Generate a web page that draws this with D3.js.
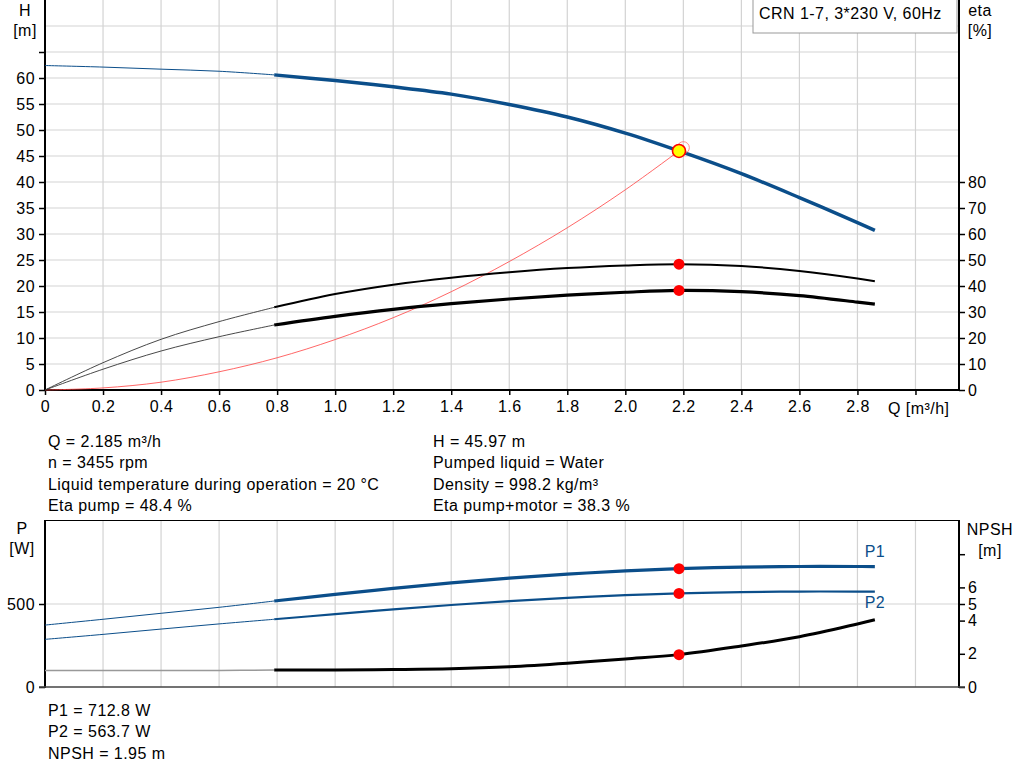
<!DOCTYPE html>
<html>
<head>
<meta charset="utf-8">
<script src="https://cdn.jsdelivr.net/npm/d3@7"></script>
<style>
  body { margin: 0; background: #fff; }
  svg { display: block; font-family: "Liberation Sans", Arial, sans-serif; }
  svg text { font-size: 16px; letter-spacing: 0.45px; }
</style>
</head>
<body>
<div id="chart"></div>
<script>
// flow values, thin (outside range) part and thick (operating range) part
var qLow = [0, 0.2, 0.4, 0.6, 0.79]
var qHigh = [0.79, 1.0, 1.2, 1.4, 1.6, 1.8, 2.0, 2.185, 2.4, 2.6, 2.8, 2.86]

var hLow = [62.4, 62.1, 61.7, 61.3, 60.6]
var hHigh = [60.6, 59.5, 58.3, 56.9, 54.9, 52.5, 49.4, 45.97, 41.6, 37.0, 32.2, 30.7]

var etaPumpLow = [0, 10.5, 19.5, 26.3, 31.8]
var etaPumpHigh = [31.8, 36.9, 40.5, 43.2, 45.3, 46.9, 47.9, 48.4, 47.7, 45.8, 42.9, 41.8]

var etaTotLow = [0, 8, 15, 20.5, 25]
var etaTotHigh = [25, 28.3, 31.0, 33.2, 35.0, 36.5, 37.6, 38.3, 37.8, 36.3, 33.8, 33.0]

var qSys = [0, 0.2, 0.4, 0.6, 0.8, 1.0, 1.2, 1.4, 1.6, 1.8, 2.0, 2.2]
var hSys = [0, 0.4, 1.5, 3.5, 6.2, 9.7, 13.9, 18.9, 24.7, 31.2, 38.5, 46.6]

var p1Low = [373, 408, 444, 480, 518]
var p1High = [518, 558, 594, 627, 656, 680, 699, 712.8, 722, 726, 726, 725]
var p2Low = [287, 317, 349, 380, 408]
var p2High = [408, 439, 468, 494, 517, 537, 553, 563.7, 571, 575, 575, 574]
var npshLow = [1.0, 1.0, 1.0, 1.0, 1.02]
var npshHigh = [1.02, 1.02, 1.05, 1.1, 1.22, 1.43, 1.69, 1.95, 2.47, 3.03, 3.8, 4.05]

// duty point
var duty = { q: 2.185, h: 45.97, etaPump: 48.4, etaTot: 38.3, p1: 712.8, p2: 563.7, npsh: 1.95 }

var qTicks = [0, 0.2, 0.4, 0.6, 0.8, 1.0, 1.2, 1.4, 1.6, 1.8, 2.0, 2.2, 2.4, 2.6, 2.8]
var qGrid = [0.2, 0.4, 0.6, 0.8, 1.0, 1.2, 1.4, 1.6, 1.8, 2.0, 2.2, 2.4, 2.6, 2.8, 3.0]
var hTicks = [0, 5, 10, 15, 20, 25, 30, 35, 40, 45, 50, 55, 60, 65]
var hGrid = [5, 10, 15, 20, 25, 30, 35, 40, 45, 50, 55, 60, 65, 70]
var etaTicks = [0, 10, 20, 30, 40, 50, 60, 70, 80]
var pTicks = [0, 500]
var npshTicks = [0, 2, 4, 5, 6, 8]

var infoLeft = ["Q = 2.185 m³/h", "n = 3455 rpm", "Liquid temperature during operation = 20 °C", "Eta pump = 48.4 %"]
var infoRight = ["H = 45.97 m", "Pumped liquid = Water", "Density = 998.2 kg/m³", "Eta pump+motor = 38.3 %"]
var infoBottom = ["P1 = 712.8 W", "P2 = 563.7 W", "NPSH = 1.95 m"]

var blue = "#0b4e8a"
var gridColor = "#d3d3d3"

var svg = d3.select("#chart").append("svg")
	.attr("width", 1024)
	.attr("height", 781)
svg.append("rect").attr("width", 1024).attr("height", 781).attr("fill", "#fff")

var x = d3.scaleLinear().domain([0, 3.15]).range([45, 959])
var yH = d3.scaleLinear().domain([0, 75]).range([390, 0])
var yEta = d3.scaleLinear().domain([0, 150]).range([390, 0])
var yP = d3.scaleLinear().domain([0, 1000]).range([687, 521])
var yN = d3.scaleLinear().domain([0, 10]).range([687, 521])

function zip(qs, vs) {
	return qs.map(function (q, i) { return [q, vs[i]] })
}

function curve(yScale, qs, vs, color, width) {
	var line = d3.line()
		.x(function (d) { return x(d[0]) })
		.y(function (d) { return yScale(d[1]) })
		.curve(d3.curveCatmullRom.alpha(0.5))
	svg.append("path")
		.attr("d", line(zip(qs, vs)))
		.attr("fill", "none")
		.attr("stroke", color)
		.attr("stroke-width", width)
		.attr("stroke-linejoin", "round")
}

// ---------- top chart ----------
var gTop = svg.append("g")
gTop.selectAll("line.vg").data(qGrid).enter().append("line")
	.attr("x1", function (d) { return x(d) }).attr("x2", function (d) { return x(d) })
	.attr("y1", 0).attr("y2", 390)
	.attr("stroke", gridColor).attr("stroke-width", 1.2)
gTop.selectAll("line.hg").data(hGrid).enter().append("line")
	.attr("x1", 45).attr("x2", 959)
	.attr("y1", function (d) { return yH(d) }).attr("y2", function (d) { return yH(d) })
	.attr("stroke", gridColor).attr("stroke-width", 1.2)

var leftAxis = d3.axisLeft(yH).tickValues(hTicks).tickSize(6).tickPadding(4)
	.tickFormat(function (d) { return d === 65 ? "" : d })
svg.append("g").attr("transform", "translate(45,0)").call(leftAxis)
var rightAxis = d3.axisRight(yEta).tickValues(etaTicks).tickSize(6).tickPadding(3)
svg.append("g").attr("transform", "translate(959,0)").call(rightAxis)
var bottomAxis = d3.axisBottom(x).tickValues(qTicks.concat([3.0])).tickSize(5).tickPadding(6)
	.tickFormat(function (d) { return d === 3.0 ? "" : (d === 0 ? "0" : d3.format(".1f")(d)) })
svg.append("g").attr("transform", "translate(0,390)").call(bottomAxis)

// axis lines full length
svg.append("line").attr("x1", 45).attr("x2", 45).attr("y1", 0).attr("y2", 391)
	.attr("stroke", "#000").attr("stroke-width", 2)
svg.append("line").attr("x1", 959).attr("x2", 959).attr("y1", 0).attr("y2", 391)
	.attr("stroke", "#000").attr("stroke-width", 2)
svg.append("line").attr("x1", 44).attr("x2", 960).attr("y1", 390).attr("y2", 390)
	.attr("stroke", "#000").attr("stroke-width", 2)

// system curve
curve(yH, qSys, hSys, "#ff4040", 0.8)
// efficiency curves
curve(yEta, qLow, etaPumpLow, "#333", 0.9)
curve(yEta, qHigh, etaPumpHigh, "#000", 2)
curve(yEta, qLow, etaTotLow, "#333", 0.9)
curve(yEta, qHigh, etaTotHigh, "#000", 3.2)
// head curve
curve(yH, qLow, hLow, blue, 1)
curve(yH, qHigh, hHigh, blue, 3.5)

// duty point markers
svg.append("circle").attr("cx", x(qSys[qSys.length - 1])).attr("cy", yH(hSys[hSys.length - 1]))
	.attr("r", 6).attr("fill", "none").attr("stroke", "#ff7070").attr("stroke-width", 0.8)
svg.append("circle").attr("cx", x(duty.q)).attr("cy", yH(duty.h))
	.attr("r", 6.5).attr("fill", "#ffff00").attr("stroke", "#ff0000").attr("stroke-width", 1.6)
svg.append("circle").attr("cx", x(duty.q)).attr("cy", yEta(duty.etaPump)).attr("r", 5.5).attr("fill", "#ff0000")
svg.append("circle").attr("cx", x(duty.q)).attr("cy", yEta(duty.etaTot)).attr("r", 5.5).attr("fill", "#ff0000")

// legend box
svg.append("rect").attr("x", 753).attr("y", -1).attr("width", 204).attr("height", 34)
	.attr("fill", "#fff").attr("stroke", "#999").attr("stroke-width", 1)
svg.append("text").attr("x", 759).attr("y", 19).text("CRN 1-7, 3*230 V, 60Hz")

// axis titles
svg.append("text").attr("x", 25).attr("y", 16).attr("text-anchor", "middle").text("H")
svg.append("text").attr("x", 25).attr("y", 36).attr("text-anchor", "middle").text("[m]")
svg.append("text").attr("x", 980).attr("y", 16).attr("text-anchor", "middle").text("eta")
svg.append("text").attr("x", 980).attr("y", 36).attr("text-anchor", "middle").text("[%]")
svg.append("text").attr("x", 888).attr("y", 414).text("Q [m³/h]")

// ---------- info text ----------
svg.selectAll("text.il").data(infoLeft).enter().append("text")
	.attr("x", 48).attr("y", function (d, i) { return 446.5 + i * 21.5 })
	.text(function (d) { return d })
svg.selectAll("text.ir").data(infoRight).enter().append("text")
	.attr("x", 433).attr("y", function (d, i) { return 446.5 + i * 21.5 })
	.text(function (d) { return d })
svg.selectAll("text.ib").data(infoBottom).enter().append("text")
	.attr("x", 48).attr("y", function (d, i) { return 715.5 + i * 21.5 })
	.text(function (d) { return d })

// ---------- bottom chart ----------
svg.selectAll("line.bvg").data(qGrid).enter().append("line")
	.attr("x1", function (d) { return x(d) }).attr("x2", function (d) { return x(d) })
	.attr("y1", 521).attr("y2", 687)
	.attr("stroke", gridColor).attr("stroke-width", 1.2)
svg.append("line").attr("x1", 45).attr("x2", 959).attr("y1", yP(500)).attr("y2", yP(500))
	.attr("stroke", gridColor).attr("stroke-width", 1.2)

var pAxis = d3.axisLeft(yP).tickValues(pTicks).tickSize(6).tickPadding(4)
svg.append("g").attr("transform", "translate(45,0)").call(pAxis)
var nAxis = d3.axisRight(yN).tickValues(npshTicks).tickSize(6).tickPadding(3)
	.tickFormat(function (d) { return d === 8 ? "" : d })
svg.append("g").attr("transform", "translate(959,0)").call(nAxis)

svg.append("line").attr("x1", 45).attr("x2", 959).attr("y1", 520.5).attr("y2", 520.5)
	.attr("stroke", "#000").attr("stroke-width", 1)
svg.append("line").attr("x1", 45).attr("x2", 45).attr("y1", 520).attr("y2", 688)
	.attr("stroke", "#000").attr("stroke-width", 2)
svg.append("line").attr("x1", 959).attr("x2", 959).attr("y1", 520).attr("y2", 688)
	.attr("stroke", "#000").attr("stroke-width", 2)
svg.append("line").attr("x1", 39).attr("x2", 965).attr("y1", 687).attr("y2", 687)
	.attr("stroke", "#444").attr("stroke-width", 1.5)

curve(yN, qLow, npshLow, "#999", 1.5)
curve(yN, qHigh, npshHigh, "#000", 3)
curve(yP, qLow, p2Low, blue, 1)
curve(yP, qHigh, p2High, blue, 2.2)
curve(yP, qLow, p1Low, blue, 1)
curve(yP, qHigh, p1High, blue, 3.2)

svg.append("circle").attr("cx", x(duty.q)).attr("cy", yP(duty.p1)).attr("r", 5.5).attr("fill", "#ff0000")
svg.append("circle").attr("cx", x(duty.q)).attr("cy", yP(duty.p2)).attr("r", 5.5).attr("fill", "#ff0000")
svg.append("circle").attr("cx", x(duty.q)).attr("cy", yN(duty.npsh)).attr("r", 5.5).attr("fill", "#ff0000")

svg.append("text").attr("x", 875).attr("y", 557).attr("text-anchor", "middle")
	.attr("fill", blue).text("P1")
svg.append("text").attr("x", 875).attr("y", 608).attr("text-anchor", "middle")
	.attr("fill", blue).text("P2")

svg.append("text").attr("x", 22).attr("y", 534).attr("text-anchor", "middle").text("P")
svg.append("text").attr("x", 22).attr("y", 554).attr("text-anchor", "middle").text("[W]")
svg.append("text").attr("x", 990).attr("y", 535).attr("text-anchor", "middle").text("NPSH")
svg.append("text").attr("x", 990).attr("y", 556).attr("text-anchor", "middle").text("[m]")

// tick styling
svg.selectAll(".tick text").attr("font-size", 16).attr("font-family", "Liberation Sans, Arial, sans-serif").attr("fill", "#000")
svg.selectAll(".tick line").attr("stroke", "#000").attr("stroke-width", 1.5)
svg.selectAll(".domain").remove()
</script>
</body>
</html>
